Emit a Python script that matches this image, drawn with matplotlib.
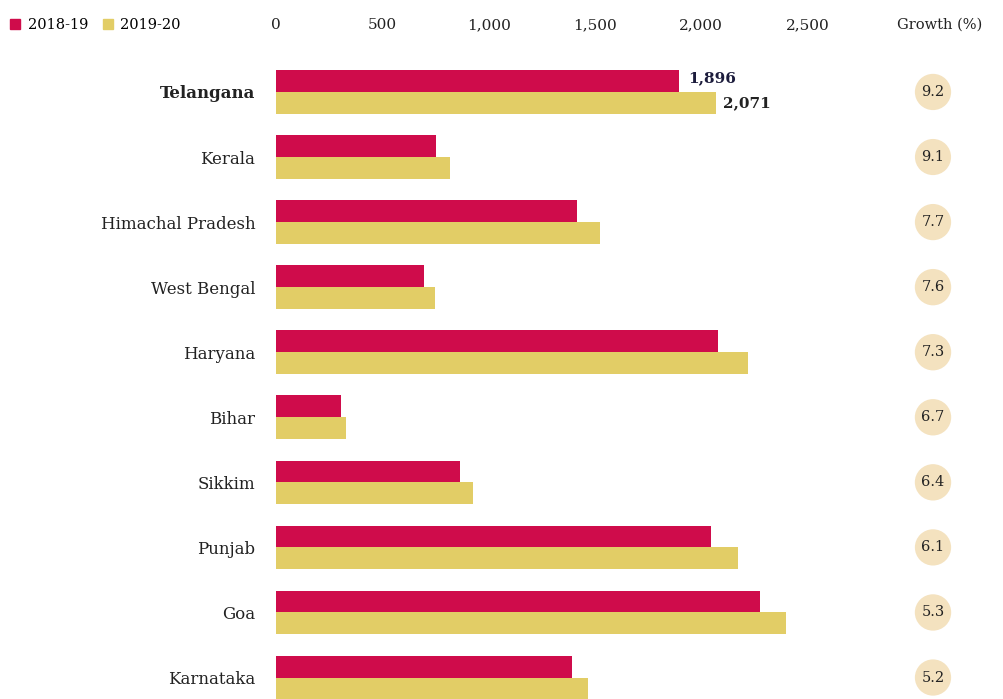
import numpy as np
import matplotlib.pyplot as plt
from matplotlib.patches import Patch
from matplotlib.transforms import blended_transform_factory

states = ['Telangana', 'Kerala', 'Himachal Pradesh', 'West Bengal', 'Haryana',
          'Bihar', 'Sikkim', 'Punjab', 'Goa', 'Karnataka']
val_1819 = [1896, 753, 1416, 696, 2080, 306, 866, 2047, 2278, 1393]
val_1920 = [2071, 819, 1525, 750, 2221, 328, 925, 2175, 2400, 1466]
growth = ['9.2', '9.1', '7.7', '7.6', '7.3', '6.7', '6.4', '6.1', '5.3', '5.2']
xticks = [0, 500, 1000, 1500, 2000, 2500]

RED = '#cf0c4b'
YEL = '#e2cd66'
CIRC = '#f4e2bf'
TXT = '#222222'

plt.rcParams['font.family'] = ['DejaVu Serif']

W, H = 1004, 699
fig = plt.figure(figsize=(W / 100, H / 100), dpi=100)
# axes from y=50px to bottom edge, x origin at 276px
ax = fig.add_axes([276 / W, 0, 574 / W, (H - 50) / H])

y = np.arange(len(states))
bh = 0.335
ax.barh(y - bh / 2, val_1819, height=bh, color=RED, label='2018-19')
ax.barh(y + bh / 2, val_1920, height=bh, color=YEL, label='2019-20')

ax.set_xlim(0, 2700)
ax.set_ylim(9.33, -0.645)
ax.xaxis.tick_top()
ax.set_xticks(xticks)
ax.set_xticklabels([f'{v:,}' for v in xticks], fontsize=11, color=TXT)
ax.set_yticks(y)
ax.set_yticklabels(states, fontsize=12, color=TXT)
ax.get_yticklabels()[0].set_fontweight('bold')
ax.tick_params(axis='x', length=0, pad=13)
ax.tick_params(axis='y', length=0, pad=15)
for s in ax.spines.values():
    s.set_visible(False)

# value labels on the first row
ax.text(val_1819[0] + 45, 0 - bh / 2 - 0.05, f'{val_1819[0]:,}', fontsize=11,
        fontweight='bold', color='#1c1c3c', va='center', ha='left')
ax.text(val_1920[0] + 30, 0 + bh / 2 + 0.0, f'{val_1920[0]:,}', fontsize=11,
        fontweight='bold', color=TXT, va='center', ha='left')

# growth column
tr = blended_transform_factory(fig.transFigure, ax.transData)
for i, g in enumerate(growth):
    ax.text(933 / W, i, g, transform=tr, ha='center', va='center', fontsize=10.5,
            color=TXT, clip_on=False,
            bbox=dict(boxstyle='circle,pad=0.45', fc=CIRC, ec='none'))
fig.text(940 / W, 1 - 25 / H, 'Growth (%)', ha='center', va='center',
         fontsize=10.5, color=TXT)

handles = [Patch(color=RED, label='2018-19'), Patch(color=YEL, label='2019-20')]
fig.legend(handles=handles, loc='center left', bbox_to_anchor=(0.0, 1 - 25 / H),
           ncol=2, frameon=False, fontsize=10.5, handlelength=0.7, handleheight=0.7,
           handletextpad=0.5, columnspacing=1.0, borderaxespad=0.3)

fig.savefig('out.png', dpi=100)
